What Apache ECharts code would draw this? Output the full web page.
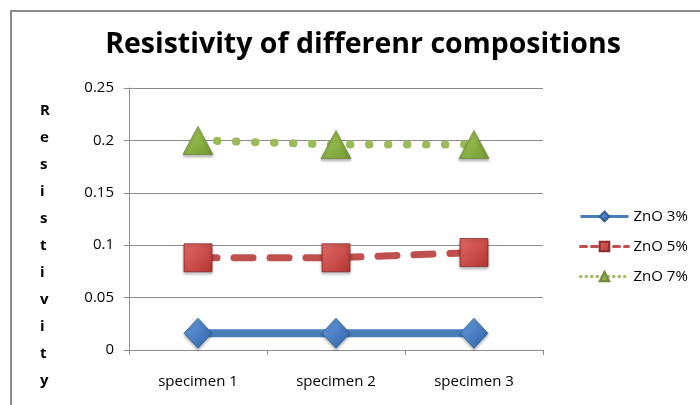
<!DOCTYPE html>
<html><head><meta charset="utf-8">
<script src="https://cdn.jsdelivr.net/npm/echarts@6/dist/echarts.min.js"></script>
<style>
html,body{margin:0;padding:0;background:#fff;}
#frame{position:absolute;left:10px;top:10px;width:690px;height:395px;border-top:2px solid #8c8c8c;border-left:2px solid #8c8c8c;}
#c{position:absolute;left:0;top:0;width:700px;height:405px;}
</style></head>
<body>
<div id="frame"></div>
<div id="c"></div>
<script>
const categories = ['specimen 1', 'specimen 2', 'specimen 3'];
const zno3 = [0.016, 0.016, 0.016];
const zno5 = [0.088, 0.088, 0.093];
const zno7 = [0.200, 0.196, 0.196];
const seriesNames = ['ZnO 3%', 'ZnO 5%', 'ZnO 7%'];
const yTicks = [0, 0.05, 0.1, 0.15, 0.2, 0.25];
const yAxisTitle = 'Resistivity';

const font = '"Open Sans", "Liberation Sans", sans-serif';
function grad(c1, c2) {
  return new echarts.graphic.LinearGradient(0, 0, 1, 1, [{offset: 0, color: c1}, {offset: 1, color: c2}]);
}
const chart = echarts.init(document.getElementById('c'), null, {renderer: 'canvas'});
chart.setOption({
  animation: false,
  backgroundColor: 'transparent',
  title: {
    text: 'Resistivity of differenr compositions',
    left: 358, top: 25, textAlign: 'center',
    textStyle: {fontFamily: font, fontWeight: 'bold', fontSize: 28.5, color: '#000'}
  },
  graphic: [{
    type: 'text', left: 40, top: 97,
    style: {
      text: yAxisTitle.split('').join('\n'),
      font: 'bold 15px ' + font, fill: '#000', lineHeight: 27, align: 'center'
    }
  }],
  legend: {
    orient: 'vertical', left: 574, top: 204, itemWidth: 48, itemHeight: 12, itemGap: 15,
    textStyle: {fontFamily: font, fontSize: 15, color: '#000'},
    data: [
      {name: seriesNames[0], lineStyle: {width: 3}},
      {name: seriesNames[1], lineStyle: {width: 3, type: [6, 5], cap: 'round'}},
      {name: seriesNames[2], lineStyle: {width: 3, type: [0.5, 5], cap: 'round'}}
    ]
  },
  grid: {left: 129, right: 157, top: 88, bottom: 55},
  xAxis: {
    type: 'category', data: categories, boundaryGap: true,
    axisLine: {lineStyle: {color: '#8c8c8c', width: 1}},
    axisTick: {show: true, length: 5, lineStyle: {color: '#8c8c8c'}},
    axisLabel: {fontFamily: font, fontSize: 15, color: '#000', margin: 24}
  },
  yAxis: {
    type: 'value', min: 0, max: 0.25, interval: 0.05,
    axisLine: {show: true, lineStyle: {color: '#8c8c8c', width: 1}},
    axisTick: {show: true, length: 5, lineStyle: {color: '#8c8c8c'}},
    splitLine: {lineStyle: {color: '#8c8c8c', width: 1}},
    axisLabel: {fontFamily: font, fontSize: 15, color: '#000', margin: 15,
      formatter: v => String(yTicks.find(t => Math.abs(t - v) < 1e-9) ?? v)}
  },
  series: [
    {
      name: seriesNames[0], type: 'line', data: zno3, z: 3,
      symbol: 'diamond', symbolSize: [28, 30],
      lineStyle: {color: '#4a7ebb', width: 8},
      itemStyle: {color: grad('#6a9de0', '#2e62a8'), borderColor: '#2f5f98', borderWidth: 0.8,
        shadowColor: 'rgba(0,0,0,0.3)', shadowBlur: 3, shadowOffsetY: 2}
    },
    {
      name: seriesNames[1], type: 'line', data: zno5, z: 3,
      symbol: 'rect', symbolSize: 28,
      lineStyle: {color: '#c0504d', width: 7, type: [19, 17], cap: 'round'},
      itemStyle: {color: grad('#e36a66', '#b33532'), borderColor: '#8c2b29', borderWidth: 0.8,
        shadowColor: 'rgba(0,0,0,0.3)', shadowBlur: 3, shadowOffsetY: 2}
    },
    {
      name: seriesNames[2], type: 'line', data: zno7, z: 3,
      symbol: 'triangle', symbolSize: [30, 28],
      lineStyle: {color: '#9bbb59', width: 8, type: [0.5, 18.5], cap: 'round'},
      itemStyle: {color: grad('#a9cc5f', '#6f9a2e'), borderColor: '#71893f', borderWidth: 0.8,
        shadowColor: 'rgba(0,0,0,0.3)', shadowBlur: 3, shadowOffsetY: 2}
    }
  ]
});
</script>
</body></html>
